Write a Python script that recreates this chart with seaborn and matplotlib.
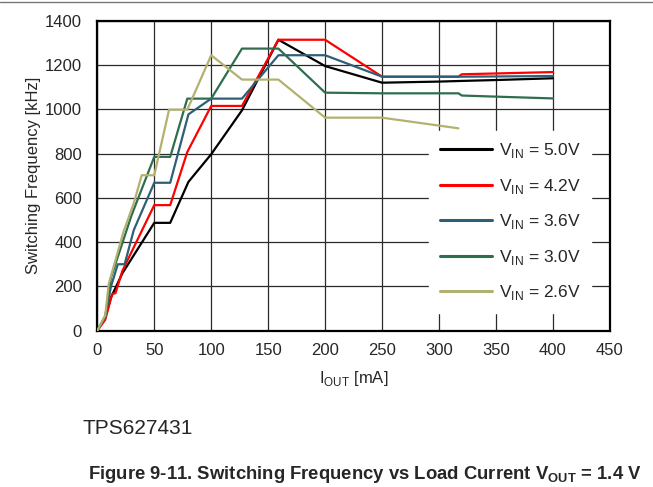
import numpy as np
import matplotlib
matplotlib.use('Agg')
import matplotlib.pyplot as plt
import pandas as pd
import seaborn as sns

# values (I_OUT in mA, frequency in kHz)
x_50 = [0, 7, 12, 22, 50, 64, 80, 100, 127, 159, 200, 250, 300, 320, 350, 400]
f_50 = [0, 60, 150, 259, 487, 487, 672, 797, 995, 1314, 1195, 1120, 1125, 1128, 1132, 1140]

x_42 = [0, 7, 13, 16, 22, 50, 64, 79, 100, 127, 159, 200, 250, 317, 320, 400]
f_42 = [0, 50, 165, 170, 270, 567, 567, 807, 1015, 1015, 1314, 1314, 1147, 1147, 1158, 1168]

x_36 = [0, 7, 12, 18, 24, 32, 50, 64, 80, 100, 127, 159, 200, 250, 317, 400]
f_36 = [0, 65, 200, 300, 300, 454, 668, 668, 977, 1048, 1048, 1244, 1244, 1147, 1147, 1150]

x_30 = [0, 7, 12, 30, 50, 64, 79, 100, 127, 159, 200, 250, 317, 320, 350, 400]
f_30 = [0, 65, 240, 520, 785, 785, 1048, 1048, 1274, 1274, 1075, 1072, 1072, 1062, 1057, 1049]

x_26 = [0, 7, 10, 23, 32, 39, 50, 63, 79, 100, 127, 159, 200, 250, 317]
f_26 = [0, 70, 210, 447, 575, 702, 702, 998, 998, 1244, 1134, 1134, 962, 962, 914]

labels = ['5.0V', '4.2V', '3.6V', '3.0V', '2.6V']
colors = ['#000000', '#FF0000', '#2F5F76', '#2E6E4E', '#B3B16F']

sns.set_style('white')
plt.rcParams['font.family'] = ['Liberation Sans', 'DejaVu Sans']
plt.rcParams['mathtext.fontset'] = 'custom'
plt.rcParams['mathtext.rm'] = 'Liberation Sans'
plt.rcParams['mathtext.bf'] = 'Liberation Sans:bold'

frames = []
for lab, xs, fs in zip(labels, [x_50, x_42, x_36, x_30, x_26],
                       [f_50, f_42, f_36, f_30, f_26]):
    frames.append(pd.DataFrame({'iout': xs, 'freq': fs,
                                'vin': r'V$_{\mathregular{IN}}$ = ' + lab}))
df = pd.concat(frames, ignore_index=True)

fig = plt.figure(figsize=(6.53, 4.87), dpi=100)
ax = fig.add_axes([0.149, 0.321, 0.785, 0.6365])

sns.lineplot(data=df, x='iout', y='freq', hue='vin', palette=colors,
             sort=False, estimator=None, linewidth=1.6, ax=ax, zorder=3)

ax.set_xlim(0, 450)
ax.set_ylim(0, 1400)
ax.set_xticks(np.arange(0, 451, 50))
ax.set_yticks(np.arange(0, 1401, 200))
ax.grid(True, color='#2a2a2a', linewidth=0.9)
ax.set_axisbelow(True)
for s in ax.spines.values():
    s.set_color('black')
    s.set_linewidth(1.6)
ax.tick_params(labelsize=12, length=0)
ax.tick_params(axis='y', pad=11)
ax.tick_params(axis='x', pad=9)

ax.set_xlabel(r'I$_{\mathregular{OUT}}$ [mA]', fontsize=12, labelpad=8)
ax.set_ylabel('Switching Frequency [kHz]', fontsize=12, labelpad=3)

leg = ax.legend(loc='lower right', bbox_to_anchor=(0.98, 0.03), fontsize=12.5,
                frameon=True, fancybox=False, framealpha=1, edgecolor='white',
                handlelength=3.0, labelspacing=0.95, borderpad=0.6,
                handletextpad=0.4)
for ln in leg.get_lines():
    ln.set_linewidth(2.2)
leg.set_zorder(5)

fig.add_artist(plt.Line2D([0, 1], [0.996, 0.996], color='#777777', linewidth=1))
fig.text(0.127, 0.108, 'TPS627431', fontsize=15)
fig.text(0.134, 0.016,
         r'Figure 9-11. Switching Frequency vs Load Current V$_{\mathbf{OUT}}$ = 1.4 V',
         fontsize=13.3, fontweight='bold')

fig.savefig('out.png', dpi=100)
